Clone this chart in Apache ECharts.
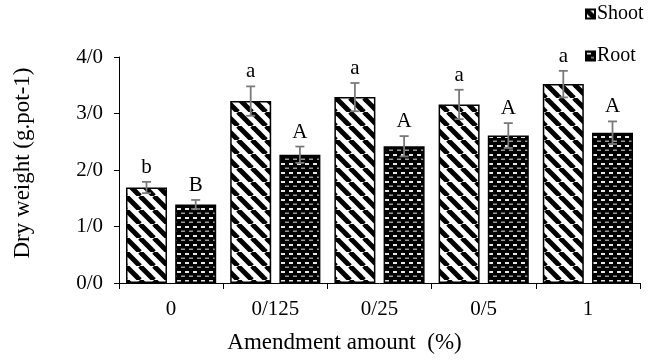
<!DOCTYPE html>
<html>
<head>
<meta charset="utf-8">
<script src="https://cdn.jsdelivr.net/npm/echarts@6/dist/echarts.min.js"></script>
<style>
  html, body { margin: 0; padding: 0; background: #fff; }
  #chart { width: 652px; height: 360px; }
</style>
</head>
<body>
<div id="chart"></div>
<script>
// Amendment levels (%) and axis tick text
const categories = ['0', '0/125', '0/25', '0/5', '1'];
const yTickLabels = ['0/0', '1/0', '2/0', '3/0', '4/0'];

// Shoot dry weight: means, standard errors, significance letters
const shootValues = [1.69, 3.22, 3.29, 3.16, 3.52];
const shootErrors = [0.10, 0.26, 0.25, 0.26, 0.235];
const shootLetters = ['b', 'a', 'a', 'a', 'a'];

// Root dry weight: means, standard errors, significance letters
const rootValues = [1.39, 2.27, 2.42, 2.61, 2.66];
const rootErrors = [0.08, 0.145, 0.18, 0.22, 0.20];
const rootLetters = ['B', 'A', 'A', 'A', 'A'];

const FONT = '"Liberation Serif", "Times New Roman", serif';
const BAR_W = 41;
const BAR_GAP = 0.2;
const HALF_STEP = (BAR_W + BAR_W * BAR_GAP) / 2;

// Diagonal stripe fill for shoot bars
function stripeTile() {
  const s = 14;
  const c = document.createElement('canvas');
  c.width = s; c.height = s;
  const g = c.getContext('2d');
  g.fillStyle = '#fff';
  g.fillRect(0, 0, s, s);
  g.strokeStyle = '#000';
  g.lineWidth = 5;
  for (const x0 of [-s, 0, s]) {
    g.beginPath();
    g.moveTo(x0, 0);
    g.lineTo(x0 + s, s);
    g.stroke();
  }
  return c;
}

// Dark fill with small light dashes for root bars
function dashTile() {
  const w = 8, h = 9;
  const c = document.createElement('canvas');
  c.width = w; c.height = h;
  const g = c.getContext('2d');
  g.fillStyle = '#000';
  g.fillRect(0, 0, w, h);
  g.fillStyle = '#e6e6e6';
  g.fillRect(1, 1, 4, 2);
  g.fillStyle = '#9a9a9a';
  g.fillRect(5, 5.5, 3, 1.5);
  g.fillRect(0, 5.5, 1, 1.5);
  return c;
}

const shootFill = { image: stripeTile(), repeat: 'repeat' };
const rootFill = { image: dashTile(), repeat: 'repeat' };

const errColor = '#7a7a7a';

function errorBarSeries(name, values, errors, letters, offset) {
  return {
    type: 'custom',
    name: name + ' error',
    z: 5,
    silent: true,
    data: values.map((v, i) => [i, v, errors[i]]),
    renderItem: function (params, api) {
      const i = api.value(0), v = api.value(1), e = api.value(2);
      const top = api.coord([i, v + e]);
      const bot = api.coord([i, v - e]);
      const x = top[0] + offset;
      const cap = 4.5;
      const ls = { stroke: errColor, lineWidth: 1.8 };
      return {
        type: 'group',
        children: [
          { type: 'line', shape: { x1: x, y1: top[1], x2: x, y2: bot[1] }, style: ls },
          { type: 'line', shape: { x1: x - cap, y1: top[1], x2: x + cap, y2: top[1] }, style: ls },
          { type: 'line', shape: { x1: x - cap, y1: bot[1], x2: x + cap, y2: bot[1] }, style: ls },
          {
            type: 'text',
            style: {
              x: x, y: top[1] - 4,
              text: letters[params.dataIndex],
              fill: '#000',
              font: '21px ' + FONT,
              align: 'center',
              verticalAlign: 'bottom'
            }
          }
        ]
      };
    }
  };
}

const chart = echarts.init(document.getElementById('chart'), null, { renderer: 'canvas' });

chart.setOption({
  animation: false,
  backgroundColor: '#fff',
  textStyle: { fontFamily: FONT, color: '#000' },
  grid: { left: 119, right: 12, top: 57, bottom: 77, containLabel: false },
  legend: {
    orient: 'vertical',
    left: 585,
    top: 4,
    padding: 0,
    itemWidth: 9,
    itemHeight: 9,
    itemGap: 22,
    icon: 'rect',
    data: ['Shoot', 'Root'],
    textStyle: { fontFamily: FONT, fontSize: 20, color: '#000', padding: [0, 0, 0, -3] }
  },
  xAxis: {
    type: 'category',
    data: categories,
    name: 'Amendment amount  (%)',
    nameLocation: 'middle',
    nameGap: 48,
    nameTextStyle: { fontFamily: FONT, fontSize: 23, color: '#000', padding: [0, 70, 0, 0] },
    axisLine: { show: true, lineStyle: { color: '#000', width: 1 } },
    axisTick: { show: true, length: 6, alignWithLabel: false, lineStyle: { color: '#000' } },
    axisLabel: { margin: 16, fontFamily: FONT, fontSize: 21, color: '#000' },
    splitLine: { show: false }
  },
  yAxis: {
    type: 'value',
    min: 0,
    max: 4,
    interval: 1,
    name: 'Dry weight (g.pot-1)',
    nameLocation: 'middle',
    nameRotate: 90,
    nameGap: 85,
    nameTextStyle: { fontFamily: FONT, fontSize: 23, color: '#000', padding: [0, 0, 0, 14] },
    axisLine: { show: true, lineStyle: { color: '#000', width: 1 } },
    axisTick: { show: true, length: 5, inside: false, lineStyle: { color: '#000' } },
    axisLabel: {
      margin: 16,
      fontFamily: FONT,
      fontSize: 21,
      color: '#000',
      formatter: v => yTickLabels[Math.round(v)]
    },
    splitLine: { show: false }
  },
  series: [
    {
      name: 'Shoot',
      type: 'bar',
      data: shootValues,
      barWidth: BAR_W,
      barGap: (BAR_GAP * 100) + '%',
      itemStyle: { color: shootFill, borderColor: '#000', borderWidth: 1.5 }
    },
    {
      name: 'Root',
      type: 'bar',
      data: rootValues,
      barWidth: BAR_W,
      barGap: (BAR_GAP * 100) + '%',
      itemStyle: { color: rootFill, borderColor: '#000', borderWidth: 1.5 }
    },
    errorBarSeries('Shoot', shootValues, shootErrors, shootLetters, -HALF_STEP),
    errorBarSeries('Root', rootValues, rootErrors, rootLetters, HALF_STEP)
  ]
});
</script>
</body>
</html>
